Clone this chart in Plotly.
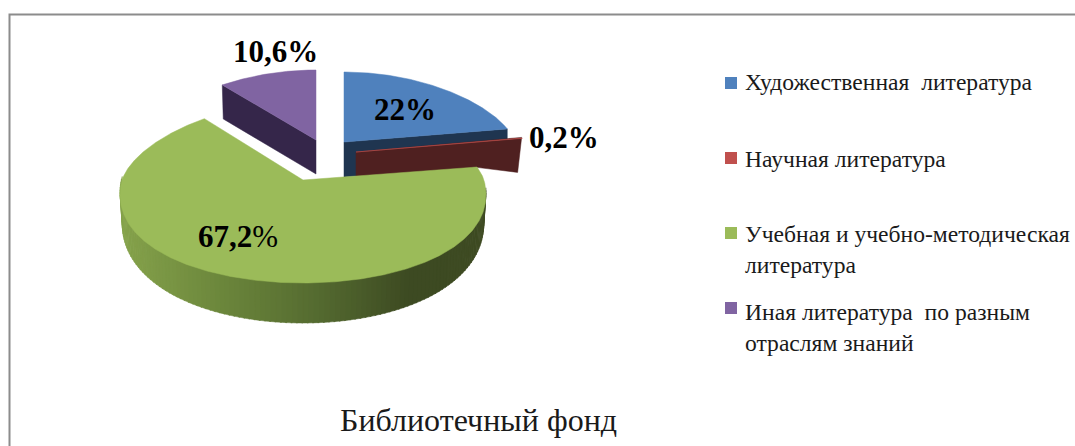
import numpy as np
import plotly.graph_objects as go

categories = ["Художественная\u00a0\u00a0литература", "Научная литература",
              "Учебная и учебно-методическая<br>литература",
              "Иная литература\u00a0\u00a0по разным<br>отраслям знаний"]
values = [22.0, 0.2, 67.2, 10.6]
labels = ["<b>22%</b>", "<b>0,2%</b>", "<b>67,2</b>%", "<b>10,6%</b>"]
chart_title = "Библиотечный фонд"

top_colors = ["#4f81bd", "#c0504d", "#9bbb59", "#8064a2"]
side_colors = ["#1f3550", "#4f2020", None, "#35264a"]

# per slice: apex x, apex y, rx, ry back, ry front, wall depth
geom = [(344, 142, 171, 70, 70, 35),
        (356, 152, 173.5, 78, 78, 35),
        (303, 180, 181, 78, 103, 28),
        (316, 140, 172, 70, 70, 34)]
PERSP = 0.15
FONT = "Liberation Serif"


def edge(i, deg):
    ax, ay, rx, rb, rf, _ = geom[i]
    t = np.radians(deg)
    u, v = np.sin(t), -np.cos(t)
    return ax + rx * u * (1 + PERSP * v), ay + v * (rf if v > 0 else rb)


edges = np.concatenate([[0], np.cumsum(values)]) * 3.6
fig = go.Figure()


def poly(xs, ys, color, width=0.5):
    fig.add_trace(go.Scatter(x=list(xs), y=list(ys), mode="lines", fill="toself",
                             fillcolor=color, line=dict(color=color, width=width),
                             hoverinfo="skip", showlegend=False))


def mix(stops, x):
    xp = [s[0] for s in stops]
    c = [np.interp(x, xp, [s[1][k] for s in stops]) for k in range(3)]
    return "rgb(%d,%d,%d)" % tuple(c)


def top_face(i):
    ang = np.linspace(edges[i], edges[i + 1], max(4, int(edges[i + 1] - edges[i]) * 2))
    pts = [edge(i, a) for a in ang]
    ax, ay = geom[i][:2]
    poly([ax] + [p[0] for p in pts] + [ax], [ay] + [p[1] for p in pts] + [ay], top_colors[i])


# purple: radial wall and top
px, py = edge(3, edges[3])
ax, ay, *_, d = geom[3]
poly([ax, px, px + 1, ax, ax], [ay, py, py + 34, ay + d, ay], side_colors[3])
top_face(3)

# blue: radial wall and top
ex, ey = edge(0, edges[1])
ax, ay, *_, d = geom[0]
poly([ax, ex, ex, ax, ax], [ay, ey, ey + d, ay + d, ay], side_colors[0])
top_face(0)

# red: radial wall and thin top
gx, gy = edge(2, edges[2])
rx_, ry_ = edge(1, edges[1])
ax, ay, *_, d = geom[1]
poly([ax, rx_, rx_ - 4, gx, ax, ax], [ay, ry_, ry_ + d, gy + 1, ay + d, ay], side_colors[1])
top_face(1)

# green: curved wall in strips, shaded along x, then top
stops = [(120, (134, 163, 76)), (220, (108, 135, 60)), (320, (84, 106, 48)),
         (410, (61, 74, 34)), (486, (63, 76, 36))]
ang = np.arange(96, 270.5, 1.5)
for a0, a1 in zip(ang[:-1], ang[1:]):
    x0, y0 = edge(2, a0)
    x1, y1 = edge(2, a1 + 0.4)
    d0 = 27 + 13 * max(-np.cos(np.radians(a0)), 0)
    d1 = 27 + 13 * max(-np.cos(np.radians(a1 + 0.4)), 0)
    poly([x0, x1, x1 + (303 - x1) * 0.012, x0 + (303 - x0) * 0.012, x0],
         [y0 - 3, y1 - 3, y1 + d1, y0 + d0, y0 - 3], mix(stops, (x0 + x1) / 2))
top_face(2)

# legend markers
legend_y = [83, 158, 233, 308]
legend_text_top = [67, 144, 219, 297]
fig.add_trace(go.Scatter(x=[731] * 4, y=legend_y, mode="markers",
                         marker=dict(symbol="square", size=12, color=top_colors),
                         hoverinfo="skip", showlegend=False))

ann = []
for cat, y in zip(categories, legend_text_top):
    ann.append(dict(x=743, y=y, text=cat, xanchor="left", yanchor="top", align="left",
                    showarrow=False, font=dict(family=FONT, size=23.6, color="#1a1a1a")))
label_pos = [(405, 109), (564, 137), (238, 236), (275, 51)]
for lab, (x, y) in zip(labels, label_pos):
    ann.append(dict(x=x, y=y, text=lab, showarrow=False, font=dict(family=FONT, size=31, color="#000")))
ann.append(dict(x=478, y=420, text=chart_title, showarrow=False,
                font=dict(family=FONT, size=32, color="#1a1a1a")))

fig.update_layout(
    width=1075, height=446, margin=dict(l=0, r=0, t=0, b=0),
    paper_bgcolor="#fff", plot_bgcolor="#fff", showlegend=False,
    xaxis=dict(range=[0, 1075], visible=False, fixedrange=True),
    yaxis=dict(range=[446, 0], visible=False, fixedrange=True),
    annotations=ann,
    shapes=[dict(type="path", xref="x", yref="y",
                 path="M 9.5 446 L 9.5 14.5 L 1075 14.5",
                 line=dict(color="#8c8c8c", width=2))],
)
fig.write_html("out.html", config={"displayModeBar": False},
               post_script="document.body.style.margin='0';document.documentElement.style.overflow='hidden';")
